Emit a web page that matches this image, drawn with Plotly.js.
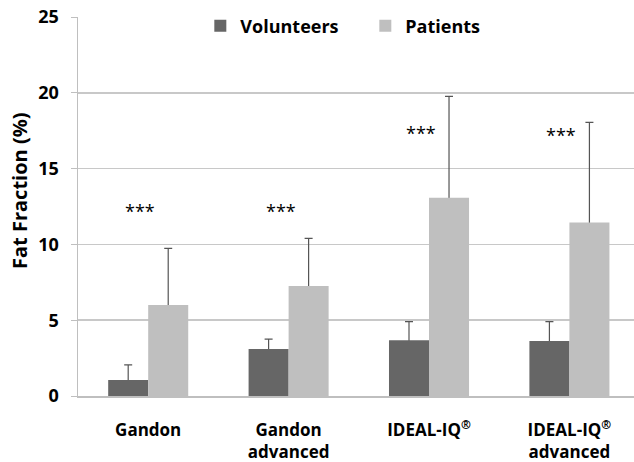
<!DOCTYPE html>
<html>
<head>
<meta charset="utf-8">
<script src="https://cdn.plot.ly/plotly-3.0.1.min.js"></script>
<style>html,body{margin:0;padding:0;background:#fff;}#chart{width:634px;height:462px;}</style>
</head>
<body>
<div id="chart"></div>
<script>
var categories = ["Gandon", "Gandon<br>advanced", "IDEAL-IQ<sup>®</sup>", "IDEAL-IQ<sup>®</sup><br>advanced"];
var volunteers = [1.05, 3.1, 3.68, 3.62];
var volunteersErr = [1.0, 0.65, 1.23, 1.29];
var patients = [6.0, 7.25, 13.07, 11.45];
var patientsErr = [3.74, 3.15, 6.69, 6.6];
var starY = [12.2, 12.2, 17.35, 17.2];
var starText = "***";
var yTitle = "Fat Fraction (%)";

var font = "'Open Sans', 'Noto Sans', sans-serif";
function errBar(err) {
  return {type: "data", symmetric: false, array: err,
          arrayminus: err.map(function(){return 0.15;}),
          color: "#555555", thickness: 1.2, width: 4};
}
var traces = [
  {type: "bar", name: "Volunteers", x: categories, y: volunteers,
   marker: {color: "rgba(0,0,0,0)"}, offsetgroup: "v", showlegend: false, hoverinfo: "skip",
   error_y: errBar(volunteersErr)},
  {type: "bar", name: "Patients", x: categories, y: patients,
   marker: {color: "rgba(0,0,0,0)"}, offsetgroup: "p", showlegend: false, hoverinfo: "skip",
   error_y: errBar(patientsErr)},
  {type: "bar", name: "Volunteers", x: categories, y: volunteers, offsetgroup: "v",
   marker: {color: "#666666"}},
  {type: "bar", name: "Patients", x: categories, y: patients, offsetgroup: "p",
   marker: {color: "#bfbfbf"}}
];
var annotations = categories.map(function(c, i){
  return {x: c, y: starY[i], xref: "x", yref: "y", text: starText, showarrow: false, xshift: -8,
          font: {family: font, size: 18, color: "#000"}};
});
annotations.push({x: -0.105, y: 0.54, xref: "paper", yref: "paper", text: yTitle, showarrow: false,
                  textangle: -90, xanchor: "center", yanchor: "middle",
                  font: {family: font, size: 20, weight: 700, color: "#000"}});
var layout = {
  width: 634, height: 462,
  margin: {l: 78, r: 0, t: 17, b: 66, autoexpand: false},
  paper_bgcolor: "#fff", plot_bgcolor: "#fff",
  barmode: "group", bargap: 0.43, bargroupgap: 0,
  font: {family: font, color: "#000"},
  showlegend: true,
  legend: {orientation: "h", x: 0.22, y: 1.025, xanchor: "left", yanchor: "top",
           font: {family: font, size: 18, weight: 700}, entrywidth: 120, entrywidthmode: "pixels",
           bgcolor: "rgba(0,0,0,0)", traceorder: "normal"},
  xaxis: {range: [-0.5, 3.46], showgrid: false, showline: true, linecolor: "#bfbfbf", linewidth: 1.5,
          ticks: "", tickfont: {family: font, size: 17, weight: 700}, ticklabelstandoff: 18},
  yaxis: {range: [0, 25], tickvals: [0,5,10,15,20,25], showgrid: true, gridcolor: "#c8c8c8", gridwidth: 1.5,
          showline: true, linecolor: "#bfbfbf", linewidth: 1.5, ticks: "outside", ticklen: 6, tickcolor: "#bfbfbf",
          tickfont: {family: font, size: 18, weight: 700}, ticklabelstandoff: 8, zeroline: false},
  annotations: annotations
};
Plotly.newPlot("chart", traces, layout, {displayModeBar: false, staticPlot: true});
</script>
</body>
</html>
